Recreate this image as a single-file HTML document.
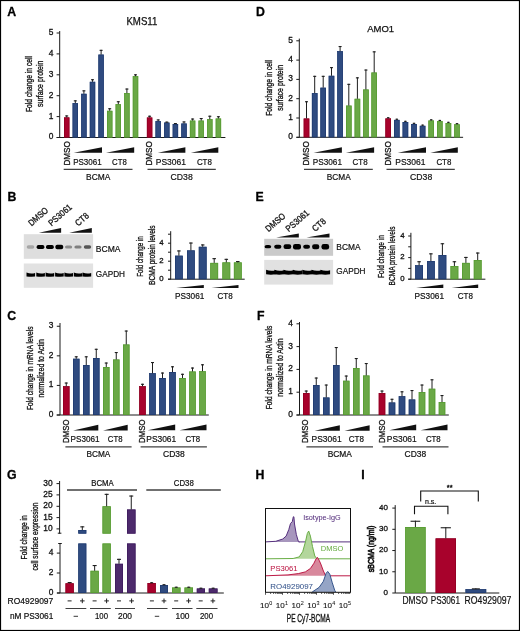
<!DOCTYPE html>
<html><head><meta charset="utf-8"><style>
html,body{margin:0;padding:0;background:#fff;}
body{width:520px;height:631px;overflow:hidden;}
svg{display:block;will-change:transform;font-family:"Liberation Sans", sans-serif;}
text{stroke-linejoin:round;}
</style></head><body>
<svg width="520" height="631" viewBox="0 0 520 631">
<defs><filter id="bl" x="-50%" y="-80%" width="200%" height="260%"><feGaussianBlur stdDeviation="0.55"/></filter><filter id="bl2" x="-50%" y="-80%" width="200%" height="260%"><feGaussianBlur stdDeviation="0.75"/></filter></defs>
<rect x="0" y="0" width="520" height="631" fill="#fff"/>
<text x="7.3" y="16.3" font-size="12.3" fill="#000" stroke="#000" stroke-width="0.3" font-weight="bold">A</text>
<text x="126.4" y="24.9" font-size="10.03" fill="#111" stroke="#111" stroke-width="0.25" font-weight="normal" textLength="31" lengthAdjust="spacingAndGlyphs">KMS11</text>
<line x1="59.7" y1="31" x2="59.7" y2="137.5" stroke="#1a1a1a" stroke-width="1"/>
<line x1="56.7" y1="137.5" x2="225.4" y2="137.5" stroke="#1a1a1a" stroke-width="1"/>
<line x1="56.6" y1="137.5" x2="59.7" y2="137.5" stroke="#1a1a1a" stroke-width="1"/>
<text x="53.3" y="139.49" font-size="8.4" fill="#111" stroke="#111" stroke-width="0.3" text-anchor="end">0</text>
<line x1="56.6" y1="116.6" x2="59.7" y2="116.6" stroke="#1a1a1a" stroke-width="1"/>
<text x="53.3" y="118.59" font-size="8.4" fill="#111" stroke="#111" stroke-width="0.3" text-anchor="end">1</text>
<line x1="56.6" y1="95.7" x2="59.7" y2="95.7" stroke="#1a1a1a" stroke-width="1"/>
<text x="53.3" y="97.69" font-size="8.4" fill="#111" stroke="#111" stroke-width="0.3" text-anchor="end">2</text>
<line x1="56.6" y1="74.8" x2="59.7" y2="74.8" stroke="#1a1a1a" stroke-width="1"/>
<text x="53.3" y="76.79" font-size="8.4" fill="#111" stroke="#111" stroke-width="0.3" text-anchor="end">3</text>
<line x1="56.6" y1="53.9" x2="59.7" y2="53.9" stroke="#1a1a1a" stroke-width="1"/>
<text x="53.3" y="55.89" font-size="8.4" fill="#111" stroke="#111" stroke-width="0.3" text-anchor="end">4</text>
<line x1="56.6" y1="33" x2="59.7" y2="33" stroke="#1a1a1a" stroke-width="1"/>
<text x="53.3" y="34.99" font-size="8.4" fill="#111" stroke="#111" stroke-width="0.3" text-anchor="end">5</text>
<rect x="64" y="117.4" width="5.4" height="20.1" fill="#a8022c"/>
<rect x="64.35" y="117.75" width="4.7" height="19.4" fill="none" stroke="#8c0022" stroke-width="0.7"/>
<line x1="66.7" y1="117.4" x2="66.7" y2="115.4" stroke="#1e1e1e" stroke-width="1"/>
<line x1="65.2" y1="115.95" x2="68.2" y2="115.95" stroke="#1e1e1e" stroke-width="1.1"/>
<rect x="72.6" y="103.1" width="5.4" height="34.4" fill="#2f4b80"/>
<rect x="72.95" y="103.45" width="4.7" height="33.7" fill="none" stroke="#1e3a6e" stroke-width="0.7"/>
<line x1="75.3" y1="103.1" x2="75.3" y2="100.3" stroke="#1e1e1e" stroke-width="1"/>
<line x1="73.8" y1="100.85" x2="76.8" y2="100.85" stroke="#1e1e1e" stroke-width="1.1"/>
<rect x="81.2" y="93.8" width="5.4" height="43.7" fill="#2f4b80"/>
<rect x="81.55" y="94.15" width="4.7" height="43" fill="none" stroke="#1e3a6e" stroke-width="0.7"/>
<line x1="83.9" y1="93.8" x2="83.9" y2="90.3" stroke="#1e1e1e" stroke-width="1"/>
<line x1="82.4" y1="90.85" x2="85.4" y2="90.85" stroke="#1e1e1e" stroke-width="1.1"/>
<rect x="89.8" y="81.8" width="5.4" height="55.7" fill="#2f4b80"/>
<rect x="90.15" y="82.15" width="4.7" height="55" fill="none" stroke="#1e3a6e" stroke-width="0.7"/>
<line x1="92.5" y1="81.8" x2="92.5" y2="79.2" stroke="#1e1e1e" stroke-width="1"/>
<line x1="91" y1="79.75" x2="94" y2="79.75" stroke="#1e1e1e" stroke-width="1.1"/>
<rect x="98.4" y="54.6" width="5.4" height="82.9" fill="#2f4b80"/>
<rect x="98.75" y="54.95" width="4.7" height="82.2" fill="none" stroke="#1e3a6e" stroke-width="0.7"/>
<line x1="101.1" y1="54.6" x2="101.1" y2="49.8" stroke="#1e1e1e" stroke-width="1"/>
<line x1="99.6" y1="50.35" x2="102.6" y2="50.35" stroke="#1e1e1e" stroke-width="1.1"/>
<rect x="107" y="110.8" width="5.4" height="26.7" fill="#6aa846"/>
<rect x="107.35" y="111.15" width="4.7" height="26" fill="none" stroke="#559a30" stroke-width="0.7"/>
<line x1="109.7" y1="110.8" x2="109.7" y2="108.2" stroke="#1e1e1e" stroke-width="1"/>
<line x1="108.2" y1="108.75" x2="111.2" y2="108.75" stroke="#1e1e1e" stroke-width="1.1"/>
<rect x="115.6" y="104.2" width="5.4" height="33.3" fill="#6aa846"/>
<rect x="115.95" y="104.55" width="4.7" height="32.6" fill="none" stroke="#559a30" stroke-width="0.7"/>
<line x1="118.3" y1="104.2" x2="118.3" y2="101.2" stroke="#1e1e1e" stroke-width="1"/>
<line x1="116.8" y1="101.75" x2="119.8" y2="101.75" stroke="#1e1e1e" stroke-width="1.1"/>
<rect x="124.2" y="93.1" width="5.4" height="44.4" fill="#6aa846"/>
<rect x="124.55" y="93.45" width="4.7" height="43.7" fill="none" stroke="#559a30" stroke-width="0.7"/>
<line x1="126.9" y1="93.1" x2="126.9" y2="88.5" stroke="#1e1e1e" stroke-width="1"/>
<line x1="125.4" y1="89.05" x2="128.4" y2="89.05" stroke="#1e1e1e" stroke-width="1.1"/>
<rect x="132.8" y="76.2" width="5.4" height="61.3" fill="#6aa846"/>
<rect x="133.15" y="76.55" width="4.7" height="60.6" fill="none" stroke="#559a30" stroke-width="0.7"/>
<line x1="135.5" y1="76.2" x2="135.5" y2="74.3" stroke="#1e1e1e" stroke-width="1"/>
<line x1="134" y1="74.85" x2="137" y2="74.85" stroke="#1e1e1e" stroke-width="1.1"/>
<rect x="146.9" y="117.5" width="5.4" height="20" fill="#a8022c"/>
<rect x="147.25" y="117.85" width="4.7" height="19.3" fill="none" stroke="#8c0022" stroke-width="0.7"/>
<line x1="149.6" y1="117.5" x2="149.6" y2="115.7" stroke="#1e1e1e" stroke-width="1"/>
<line x1="148.1" y1="116.25" x2="151.1" y2="116.25" stroke="#1e1e1e" stroke-width="1.1"/>
<rect x="155.5" y="121.1" width="5.4" height="16.4" fill="#2f4b80"/>
<rect x="155.85" y="121.45" width="4.7" height="15.7" fill="none" stroke="#1e3a6e" stroke-width="0.7"/>
<line x1="158.2" y1="121.1" x2="158.2" y2="119.4" stroke="#1e1e1e" stroke-width="1"/>
<line x1="156.7" y1="119.95" x2="159.7" y2="119.95" stroke="#1e1e1e" stroke-width="1.1"/>
<rect x="164.1" y="122.6" width="5.4" height="14.9" fill="#2f4b80"/>
<rect x="164.45" y="122.95" width="4.7" height="14.2" fill="none" stroke="#1e3a6e" stroke-width="0.7"/>
<line x1="166.8" y1="122.6" x2="166.8" y2="121.6" stroke="#1e1e1e" stroke-width="1"/>
<line x1="165.3" y1="122.15" x2="168.3" y2="122.15" stroke="#1e1e1e" stroke-width="1.1"/>
<rect x="172.7" y="124" width="5.4" height="13.5" fill="#2f4b80"/>
<rect x="173.05" y="124.35" width="4.7" height="12.8" fill="none" stroke="#1e3a6e" stroke-width="0.7"/>
<line x1="175.4" y1="124" x2="175.4" y2="123" stroke="#1e1e1e" stroke-width="1"/>
<line x1="173.9" y1="123.55" x2="176.9" y2="123.55" stroke="#1e1e1e" stroke-width="1.1"/>
<rect x="181.3" y="123.5" width="5.4" height="14" fill="#2f4b80"/>
<rect x="181.65" y="123.85" width="4.7" height="13.3" fill="none" stroke="#1e3a6e" stroke-width="0.7"/>
<line x1="184" y1="123.5" x2="184" y2="121.4" stroke="#1e1e1e" stroke-width="1"/>
<line x1="182.5" y1="121.95" x2="185.5" y2="121.95" stroke="#1e1e1e" stroke-width="1.1"/>
<rect x="189.9" y="120.6" width="5.4" height="16.9" fill="#6aa846"/>
<rect x="190.25" y="120.95" width="4.7" height="16.2" fill="none" stroke="#559a30" stroke-width="0.7"/>
<line x1="192.6" y1="120.6" x2="192.6" y2="118.5" stroke="#1e1e1e" stroke-width="1"/>
<line x1="191.1" y1="119.05" x2="194.1" y2="119.05" stroke="#1e1e1e" stroke-width="1.1"/>
<rect x="198.5" y="120.6" width="5.4" height="16.9" fill="#6aa846"/>
<rect x="198.85" y="120.95" width="4.7" height="16.2" fill="none" stroke="#559a30" stroke-width="0.7"/>
<line x1="201.2" y1="120.6" x2="201.2" y2="118" stroke="#1e1e1e" stroke-width="1"/>
<line x1="199.7" y1="118.55" x2="202.7" y2="118.55" stroke="#1e1e1e" stroke-width="1.1"/>
<rect x="207.1" y="119.2" width="5.4" height="18.3" fill="#6aa846"/>
<rect x="207.45" y="119.55" width="4.7" height="17.6" fill="none" stroke="#559a30" stroke-width="0.7"/>
<line x1="209.8" y1="119.2" x2="209.8" y2="115.7" stroke="#1e1e1e" stroke-width="1"/>
<line x1="208.3" y1="116.25" x2="211.3" y2="116.25" stroke="#1e1e1e" stroke-width="1.1"/>
<rect x="215.7" y="118.5" width="5.4" height="19" fill="#6aa846"/>
<rect x="216.05" y="118.85" width="4.7" height="18.3" fill="none" stroke="#559a30" stroke-width="0.7"/>
<line x1="218.4" y1="118.5" x2="218.4" y2="116.2" stroke="#1e1e1e" stroke-width="1"/>
<line x1="216.9" y1="116.75" x2="219.9" y2="116.75" stroke="#1e1e1e" stroke-width="1.1"/>
<text transform="translate(32 112.1) rotate(-90)" font-size="9" fill="#111" stroke="#111" stroke-width="0.32" font-weight="normal" textLength="56.2" lengthAdjust="spacingAndGlyphs">Fold change in cell</text>
<text transform="translate(42.8 107) rotate(-90)" font-size="9" fill="#111" stroke="#111" stroke-width="0.32" font-weight="normal" textLength="46.4" lengthAdjust="spacingAndGlyphs">surface protein</text>
<text transform="translate(69.6 165.6) rotate(-90)" font-size="8.7" fill="#111" stroke="#111" stroke-width="0.3" font-weight="normal" textLength="24.3" lengthAdjust="spacingAndGlyphs">DMSO</text>
<polygon points="73.7,152.8 102,147.3 102,152.8" fill="#111"/>
<polygon points="106,152.8 134.2,147.3 134.2,152.8" fill="#111"/>
<text x="73.2" y="164.6" font-size="8.72" fill="#111" stroke="#111" stroke-width="0.2" font-weight="normal" textLength="28.5" lengthAdjust="spacingAndGlyphs">PS3061</text>
<text x="112.1" y="164.6" font-size="8.72" fill="#111" stroke="#111" stroke-width="0.2" font-weight="normal" textLength="14.7" lengthAdjust="spacingAndGlyphs">CT8</text>
<line x1="63.7" y1="169.4" x2="132.5" y2="169.4" stroke="#404040" stroke-width="1.15"/>
<text x="86.1" y="179.9" font-size="8.72" fill="#111" stroke="#111" stroke-width="0.2" font-weight="normal" textLength="24.3" lengthAdjust="spacingAndGlyphs">BCMA</text>
<text transform="translate(152.2 165.6) rotate(-90)" font-size="8.7" fill="#111" stroke="#111" stroke-width="0.3" font-weight="normal" textLength="24.3" lengthAdjust="spacingAndGlyphs">DMSO</text>
<polygon points="157.7,152.8 185.4,147.3 185.4,152.8" fill="#111"/>
<polygon points="190.8,152.8 218.3,147.3 218.3,152.8" fill="#111"/>
<text x="155.8" y="164.6" font-size="8.72" fill="#111" stroke="#111" stroke-width="0.2" font-weight="normal" textLength="30.2" lengthAdjust="spacingAndGlyphs">PS3061</text>
<text x="196.9" y="164.6" font-size="8.72" fill="#111" stroke="#111" stroke-width="0.2" font-weight="normal" textLength="15" lengthAdjust="spacingAndGlyphs">CT8</text>
<line x1="147.5" y1="169.4" x2="215.8" y2="169.4" stroke="#404040" stroke-width="1.15"/>
<text x="170.6" y="179.9" font-size="8.72" fill="#111" stroke="#111" stroke-width="0.2" font-weight="normal" textLength="22.1" lengthAdjust="spacingAndGlyphs">CD38</text>
<text x="256.1" y="16.3" font-size="12.3" fill="#000" stroke="#000" stroke-width="0.3" font-weight="bold">D</text>
<text x="367.2" y="32" font-size="9.88" fill="#111" stroke="#111" stroke-width="0.25" font-weight="normal" textLength="26.9" lengthAdjust="spacingAndGlyphs">AMO1</text>
<line x1="299.3" y1="38.6" x2="299.3" y2="137.3" stroke="#1a1a1a" stroke-width="1"/>
<line x1="296.5" y1="137.3" x2="463.1" y2="137.3" stroke="#1a1a1a" stroke-width="1"/>
<line x1="296.3" y1="137.3" x2="299.3" y2="137.3" stroke="#1a1a1a" stroke-width="1"/>
<text x="292.8" y="139.29" font-size="8.4" fill="#111" stroke="#111" stroke-width="0.3" text-anchor="end">0</text>
<line x1="296.3" y1="118" x2="299.3" y2="118" stroke="#1a1a1a" stroke-width="1"/>
<text x="292.8" y="119.99" font-size="8.4" fill="#111" stroke="#111" stroke-width="0.3" text-anchor="end">1</text>
<line x1="296.3" y1="98.7" x2="299.3" y2="98.7" stroke="#1a1a1a" stroke-width="1"/>
<text x="292.8" y="100.69" font-size="8.4" fill="#111" stroke="#111" stroke-width="0.3" text-anchor="end">2</text>
<line x1="296.3" y1="79.4" x2="299.3" y2="79.4" stroke="#1a1a1a" stroke-width="1"/>
<text x="292.8" y="81.39" font-size="8.4" fill="#111" stroke="#111" stroke-width="0.3" text-anchor="end">3</text>
<line x1="296.3" y1="60.1" x2="299.3" y2="60.1" stroke="#1a1a1a" stroke-width="1"/>
<text x="292.8" y="62.09" font-size="8.4" fill="#111" stroke="#111" stroke-width="0.3" text-anchor="end">4</text>
<line x1="296.3" y1="40.8" x2="299.3" y2="40.8" stroke="#1a1a1a" stroke-width="1"/>
<text x="292.8" y="42.79" font-size="8.4" fill="#111" stroke="#111" stroke-width="0.3" text-anchor="end">5</text>
<rect x="303.7" y="118.5" width="5.6" height="18.8" fill="#a8022c"/>
<rect x="304.05" y="118.85" width="4.9" height="18.1" fill="none" stroke="#8c0022" stroke-width="0.7"/>
<line x1="306.5" y1="118.5" x2="306.5" y2="101.2" stroke="#1e1e1e" stroke-width="1"/>
<line x1="305" y1="101.75" x2="308" y2="101.75" stroke="#1e1e1e" stroke-width="1.1"/>
<rect x="311.9" y="93.1" width="5.6" height="44.2" fill="#2f4b80"/>
<rect x="312.25" y="93.45" width="4.9" height="43.5" fill="none" stroke="#1e3a6e" stroke-width="0.7"/>
<line x1="314.7" y1="93.1" x2="314.7" y2="75.8" stroke="#1e1e1e" stroke-width="1"/>
<line x1="313.2" y1="76.35" x2="316.2" y2="76.35" stroke="#1e1e1e" stroke-width="1.1"/>
<rect x="320.4" y="87.7" width="5.6" height="49.6" fill="#2f4b80"/>
<rect x="320.75" y="88.05" width="4.9" height="48.9" fill="none" stroke="#1e3a6e" stroke-width="0.7"/>
<line x1="323.2" y1="87.7" x2="323.2" y2="75.8" stroke="#1e1e1e" stroke-width="1"/>
<line x1="321.7" y1="76.35" x2="324.7" y2="76.35" stroke="#1e1e1e" stroke-width="1.1"/>
<rect x="328.7" y="75.8" width="5.6" height="61.5" fill="#2f4b80"/>
<rect x="329.05" y="76.15" width="4.9" height="60.8" fill="none" stroke="#1e3a6e" stroke-width="0.7"/>
<line x1="331.5" y1="75.8" x2="331.5" y2="67.1" stroke="#1e1e1e" stroke-width="1"/>
<line x1="330" y1="67.65" x2="333" y2="67.65" stroke="#1e1e1e" stroke-width="1.1"/>
<rect x="337.3" y="51.2" width="5.6" height="86.1" fill="#2f4b80"/>
<rect x="337.65" y="51.55" width="4.9" height="85.4" fill="none" stroke="#1e3a6e" stroke-width="0.7"/>
<line x1="340.1" y1="51.2" x2="340.1" y2="46" stroke="#1e1e1e" stroke-width="1"/>
<line x1="338.6" y1="46.55" x2="341.6" y2="46.55" stroke="#1e1e1e" stroke-width="1.1"/>
<rect x="346" y="105.6" width="5.6" height="31.7" fill="#6aa846"/>
<rect x="346.35" y="105.95" width="4.9" height="31" fill="none" stroke="#559a30" stroke-width="0.7"/>
<line x1="348.8" y1="105.6" x2="348.8" y2="83.8" stroke="#1e1e1e" stroke-width="1"/>
<line x1="347.3" y1="84.35" x2="350.3" y2="84.35" stroke="#1e1e1e" stroke-width="1.1"/>
<rect x="354.6" y="98.8" width="5.6" height="38.5" fill="#6aa846"/>
<rect x="354.95" y="99.15" width="4.9" height="37.8" fill="none" stroke="#559a30" stroke-width="0.7"/>
<line x1="357.4" y1="98.8" x2="357.4" y2="77.3" stroke="#1e1e1e" stroke-width="1"/>
<line x1="355.9" y1="77.85" x2="358.9" y2="77.85" stroke="#1e1e1e" stroke-width="1.1"/>
<rect x="363.1" y="89.5" width="5.6" height="47.8" fill="#6aa846"/>
<rect x="363.45" y="89.85" width="4.9" height="47.1" fill="none" stroke="#559a30" stroke-width="0.7"/>
<line x1="365.9" y1="89.5" x2="365.9" y2="69.5" stroke="#1e1e1e" stroke-width="1"/>
<line x1="364.4" y1="70.05" x2="367.4" y2="70.05" stroke="#1e1e1e" stroke-width="1.1"/>
<rect x="371.4" y="72.5" width="5.6" height="64.8" fill="#6aa846"/>
<rect x="371.75" y="72.85" width="4.9" height="64.1" fill="none" stroke="#559a30" stroke-width="0.7"/>
<line x1="374.2" y1="72.5" x2="374.2" y2="51.3" stroke="#1e1e1e" stroke-width="1"/>
<line x1="372.7" y1="51.85" x2="375.7" y2="51.85" stroke="#1e1e1e" stroke-width="1.1"/>
<rect x="385.4" y="118.4" width="5.6" height="18.9" fill="#a8022c"/>
<rect x="385.75" y="118.75" width="4.9" height="18.2" fill="none" stroke="#8c0022" stroke-width="0.7"/>
<line x1="388.2" y1="118.4" x2="388.2" y2="117.2" stroke="#1e1e1e" stroke-width="1"/>
<line x1="386.95" y1="117.75" x2="389.45" y2="117.75" stroke="#1e1e1e" stroke-width="1.1"/>
<rect x="394" y="119.9" width="5.6" height="17.4" fill="#2f4b80"/>
<rect x="394.35" y="120.25" width="4.9" height="16.7" fill="none" stroke="#1e3a6e" stroke-width="0.7"/>
<line x1="396.8" y1="119.9" x2="396.8" y2="118.7" stroke="#1e1e1e" stroke-width="1"/>
<line x1="395.55" y1="119.25" x2="398.05" y2="119.25" stroke="#1e1e1e" stroke-width="1.1"/>
<rect x="402.6" y="122" width="5.6" height="15.3" fill="#2f4b80"/>
<rect x="402.95" y="122.35" width="4.9" height="14.6" fill="none" stroke="#1e3a6e" stroke-width="0.7"/>
<line x1="405.4" y1="122" x2="405.4" y2="120.8" stroke="#1e1e1e" stroke-width="1"/>
<line x1="404.15" y1="121.35" x2="406.65" y2="121.35" stroke="#1e1e1e" stroke-width="1.1"/>
<rect x="411.2" y="124" width="5.6" height="13.3" fill="#2f4b80"/>
<rect x="411.55" y="124.35" width="4.9" height="12.6" fill="none" stroke="#1e3a6e" stroke-width="0.7"/>
<line x1="414" y1="124" x2="414" y2="122.8" stroke="#1e1e1e" stroke-width="1"/>
<line x1="412.75" y1="123.35" x2="415.25" y2="123.35" stroke="#1e1e1e" stroke-width="1.1"/>
<rect x="419.8" y="125.8" width="5.6" height="11.5" fill="#2f4b80"/>
<rect x="420.15" y="126.15" width="4.9" height="10.8" fill="none" stroke="#1e3a6e" stroke-width="0.7"/>
<line x1="422.6" y1="125.8" x2="422.6" y2="124.6" stroke="#1e1e1e" stroke-width="1"/>
<line x1="421.35" y1="125.15" x2="423.85" y2="125.15" stroke="#1e1e1e" stroke-width="1.1"/>
<rect x="428.4" y="120.5" width="5.6" height="16.8" fill="#6aa846"/>
<rect x="428.75" y="120.85" width="4.9" height="16.1" fill="none" stroke="#559a30" stroke-width="0.7"/>
<line x1="431.2" y1="120.5" x2="431.2" y2="119.3" stroke="#1e1e1e" stroke-width="1"/>
<line x1="429.95" y1="119.85" x2="432.45" y2="119.85" stroke="#1e1e1e" stroke-width="1.1"/>
<rect x="437" y="121.1" width="5.6" height="16.2" fill="#6aa846"/>
<rect x="437.35" y="121.45" width="4.9" height="15.5" fill="none" stroke="#559a30" stroke-width="0.7"/>
<line x1="439.8" y1="121.1" x2="439.8" y2="119.9" stroke="#1e1e1e" stroke-width="1"/>
<line x1="438.55" y1="120.45" x2="441.05" y2="120.45" stroke="#1e1e1e" stroke-width="1.1"/>
<rect x="445.6" y="123" width="5.6" height="14.3" fill="#6aa846"/>
<rect x="445.95" y="123.35" width="4.9" height="13.6" fill="none" stroke="#559a30" stroke-width="0.7"/>
<line x1="448.4" y1="123" x2="448.4" y2="121.8" stroke="#1e1e1e" stroke-width="1"/>
<line x1="447.15" y1="122.35" x2="449.65" y2="122.35" stroke="#1e1e1e" stroke-width="1.1"/>
<rect x="454.2" y="124.3" width="5.6" height="13" fill="#6aa846"/>
<rect x="454.55" y="124.65" width="4.9" height="12.3" fill="none" stroke="#559a30" stroke-width="0.7"/>
<line x1="457" y1="124.3" x2="457" y2="123.1" stroke="#1e1e1e" stroke-width="1"/>
<line x1="455.75" y1="123.65" x2="458.25" y2="123.65" stroke="#1e1e1e" stroke-width="1.1"/>
<text transform="translate(271.6 115.8) rotate(-90)" font-size="9.2" fill="#111" stroke="#111" stroke-width="0.32" font-weight="normal" textLength="55.8" lengthAdjust="spacingAndGlyphs">Fold change in cell</text>
<text transform="translate(282.8 110.8) rotate(-90)" font-size="9.2" fill="#111" stroke="#111" stroke-width="0.32" font-weight="normal" textLength="45.9" lengthAdjust="spacingAndGlyphs">surface protein</text>
<text transform="translate(308.9 165.6) rotate(-90)" font-size="8.7" fill="#111" stroke="#111" stroke-width="0.3" font-weight="normal" textLength="24.3" lengthAdjust="spacingAndGlyphs">DMSO</text>
<polygon points="313.6,152.8 341.9,147.3 341.9,152.8" fill="#111"/>
<polygon points="345.9,152.8 374.1,147.3 374.1,152.8" fill="#111"/>
<text x="312.8" y="164.6" font-size="8.72" fill="#111" stroke="#111" stroke-width="0.2" font-weight="normal" textLength="29.2" lengthAdjust="spacingAndGlyphs">PS3061</text>
<text x="352.6" y="164.6" font-size="8.72" fill="#111" stroke="#111" stroke-width="0.2" font-weight="normal" textLength="15.1" lengthAdjust="spacingAndGlyphs">CT8</text>
<line x1="304" y1="169.4" x2="372.8" y2="169.4" stroke="#404040" stroke-width="1.15"/>
<text x="326.7" y="179.9" font-size="8.72" fill="#111" stroke="#111" stroke-width="0.2" font-weight="normal" textLength="24" lengthAdjust="spacingAndGlyphs">BCMA</text>
<text transform="translate(391.2 165.6) rotate(-90)" font-size="8.7" fill="#111" stroke="#111" stroke-width="0.3" font-weight="normal" textLength="24.3" lengthAdjust="spacingAndGlyphs">DMSO</text>
<polygon points="397.7,152.8 426,147.3 426,152.8" fill="#111"/>
<polygon points="430.3,152.8 457.8,147.3 457.8,152.8" fill="#111"/>
<text x="395.3" y="164.6" font-size="8.72" fill="#111" stroke="#111" stroke-width="0.2" font-weight="normal" textLength="30.2" lengthAdjust="spacingAndGlyphs">PS3061</text>
<text x="436.4" y="164.6" font-size="8.72" fill="#111" stroke="#111" stroke-width="0.2" font-weight="normal" textLength="15" lengthAdjust="spacingAndGlyphs">CT8</text>
<line x1="386.5" y1="169.4" x2="454.8" y2="169.4" stroke="#404040" stroke-width="1.15"/>
<text x="410.1" y="179.9" font-size="8.72" fill="#111" stroke="#111" stroke-width="0.2" font-weight="normal" textLength="22.1" lengthAdjust="spacingAndGlyphs">CD38</text>
<text x="7.6" y="201" font-size="12.3" fill="#000" stroke="#000" stroke-width="0.3" font-weight="bold">B</text>
<rect x="23.8" y="234.2" width="69.3" height="24.6" fill="#dedede"/>
<rect x="26.7" y="245.3" width="7.6" height="3.4" rx="1.8" fill="#a6a6a6" filter="url(#bl2)"/>
<rect x="36.6" y="245" width="7.8" height="4" rx="1.8" fill="#050505" filter="url(#bl2)"/>
<rect x="46" y="245" width="7.8" height="4" rx="1.8" fill="#050505" filter="url(#bl2)"/>
<rect x="55.4" y="244.8" width="7.8" height="4.4" rx="1.8" fill="#000000" filter="url(#bl2)"/>
<rect x="65" y="245.4" width="7.2" height="3.2" rx="1.8" fill="#8c8c8c" filter="url(#bl2)"/>
<rect x="74.4" y="245.4" width="7.2" height="3.2" rx="1.8" fill="#7e7e7e" filter="url(#bl2)"/>
<rect x="83.8" y="245.35" width="7.4" height="3.3" rx="1.8" fill="#555555" filter="url(#bl2)"/>
<rect x="23.8" y="263.5" width="69.3" height="24.3" fill="#e2e2e2"/>
<path d="M26.5 272.6 Q30.7 274.2 35.1 273.0 L35.1 276.6 Q30.7 277.0 26.5 276.4 Z" fill="#050505" filter="url(#bl)"/>
<path d="M36.3 272.6 Q40.5 274.2 44.9 273.0 L44.9 276.6 Q40.5 277.0 36.3 276.4 Z" fill="#050505" filter="url(#bl)"/>
<path d="M45.6 272.6 Q49.8 274.2 54.2 273.0 L54.2 276.6 Q49.8 277.0 45.6 276.4 Z" fill="#050505" filter="url(#bl)"/>
<path d="M55.1 272.6 Q59.3 274.2 63.7 273.0 L63.7 276.6 Q59.3 277.0 55.1 276.4 Z" fill="#050505" filter="url(#bl)"/>
<path d="M64.4 272.6 Q68.6 274.2 73 273.0 L73 276.6 Q68.6 277.0 64.4 276.4 Z" fill="#050505" filter="url(#bl)"/>
<path d="M73.8 272.6 Q78 274.2 82.4 273.0 L82.4 276.6 Q78 277.0 73.8 276.4 Z" fill="#050505" filter="url(#bl)"/>
<path d="M82.6 272.6 Q86.8 274.2 91.2 273.0 L91.2 276.6 Q86.8 277.0 82.6 276.4 Z" fill="#050505" filter="url(#bl)"/>
<polygon points="38.8,232.7 61.1,228.1 61.1,232.7" fill="#111"/>
<polygon points="69.2,232.7 91.8,228.1 91.8,232.7" fill="#111"/>
<text transform="translate(31.4 226.4) rotate(-41)" font-size="8.9" fill="#111" stroke="#111" stroke-width="0.3" textLength="23.2" lengthAdjust="spacingAndGlyphs">DMSO</text>
<text transform="translate(51.4 226.4) rotate(-41)" font-size="8.9" fill="#111" stroke="#111" stroke-width="0.3" textLength="28" lengthAdjust="spacingAndGlyphs">PS3061</text>
<text transform="translate(78.3 226.4) rotate(-41)" font-size="8.9" fill="#111" stroke="#111" stroke-width="0.3" textLength="14.8" lengthAdjust="spacingAndGlyphs">CT8</text>
<text x="95.8" y="251.8" font-size="8.87" fill="#111" stroke="#111" stroke-width="0.2" font-weight="normal" textLength="24.7" lengthAdjust="spacingAndGlyphs">BCMA</text>
<text x="95.8" y="276.9" font-size="8.87" fill="#111" stroke="#111" stroke-width="0.2" font-weight="normal" textLength="29.2" lengthAdjust="spacingAndGlyphs">GAPDH</text>
<line x1="170.7" y1="231.2" x2="170.7" y2="279.2" stroke="#1a1a1a" stroke-width="1"/>
<line x1="168" y1="279.2" x2="244.7" y2="279.2" stroke="#1a1a1a" stroke-width="1"/>
<line x1="168" y1="279.2" x2="170.7" y2="279.2" stroke="#1a1a1a" stroke-width="1"/>
<text x="163.6" y="280.98" font-size="7.8" fill="#111" stroke="#111" stroke-width="0.3" text-anchor="end">0</text>
<line x1="168" y1="270.2" x2="170.7" y2="270.2" stroke="#1a1a1a" stroke-width="1"/>
<line x1="168" y1="261.2" x2="170.7" y2="261.2" stroke="#1a1a1a" stroke-width="1"/>
<text x="163.6" y="262.98" font-size="7.8" fill="#111" stroke="#111" stroke-width="0.3" text-anchor="end">2</text>
<line x1="168" y1="252.2" x2="170.7" y2="252.2" stroke="#1a1a1a" stroke-width="1"/>
<line x1="168" y1="243.2" x2="170.7" y2="243.2" stroke="#1a1a1a" stroke-width="1"/>
<text x="163.6" y="244.98" font-size="7.8" fill="#111" stroke="#111" stroke-width="0.3" text-anchor="end">4</text>
<line x1="168" y1="234.2" x2="170.7" y2="234.2" stroke="#1a1a1a" stroke-width="1"/>
<rect x="175" y="255.7" width="7.8" height="23.5" fill="#2f4b80"/>
<rect x="175.35" y="256.05" width="7.1" height="22.8" fill="none" stroke="#1e3a6e" stroke-width="0.7"/>
<line x1="178.9" y1="255.7" x2="178.9" y2="250.4" stroke="#1e1e1e" stroke-width="1"/>
<line x1="177.15" y1="250.95" x2="180.65" y2="250.95" stroke="#1e1e1e" stroke-width="1.1"/>
<rect x="187" y="250.4" width="7.8" height="28.8" fill="#2f4b80"/>
<rect x="187.35" y="250.75" width="7.1" height="28.1" fill="none" stroke="#1e3a6e" stroke-width="0.7"/>
<line x1="190.9" y1="250.4" x2="190.9" y2="242.5" stroke="#1e1e1e" stroke-width="1"/>
<line x1="189.15" y1="243.05" x2="192.65" y2="243.05" stroke="#1e1e1e" stroke-width="1.1"/>
<rect x="198.8" y="246.8" width="7.8" height="32.4" fill="#2f4b80"/>
<rect x="199.15" y="247.15" width="7.1" height="31.7" fill="none" stroke="#1e3a6e" stroke-width="0.7"/>
<line x1="202.7" y1="246.8" x2="202.7" y2="244.4" stroke="#1e1e1e" stroke-width="1"/>
<line x1="200.95" y1="244.95" x2="204.45" y2="244.95" stroke="#1e1e1e" stroke-width="1.1"/>
<rect x="210.3" y="262.9" width="7.8" height="16.3" fill="#6aa846"/>
<rect x="210.65" y="263.25" width="7.1" height="15.6" fill="none" stroke="#559a30" stroke-width="0.7"/>
<line x1="214.2" y1="262.9" x2="214.2" y2="258.1" stroke="#1e1e1e" stroke-width="1"/>
<line x1="212.45" y1="258.65" x2="215.95" y2="258.65" stroke="#1e1e1e" stroke-width="1.1"/>
<rect x="222.4" y="262.4" width="7.8" height="16.8" fill="#6aa846"/>
<rect x="222.75" y="262.75" width="7.1" height="16.1" fill="none" stroke="#559a30" stroke-width="0.7"/>
<line x1="226.3" y1="262.4" x2="226.3" y2="258.8" stroke="#1e1e1e" stroke-width="1"/>
<line x1="224.55" y1="259.35" x2="228.05" y2="259.35" stroke="#1e1e1e" stroke-width="1.1"/>
<rect x="233.9" y="262.4" width="7.8" height="16.8" fill="#6aa846"/>
<rect x="234.25" y="262.75" width="7.1" height="16.1" fill="none" stroke="#559a30" stroke-width="0.7"/>
<line x1="237.8" y1="262.4" x2="237.8" y2="261" stroke="#1e1e1e" stroke-width="1"/>
<line x1="236.05" y1="261.55" x2="239.55" y2="261.55" stroke="#1e1e1e" stroke-width="1.1"/>
<text transform="translate(143.2 276.8) rotate(-90)" font-size="9.4" fill="#111" stroke="#111" stroke-width="0.32" font-weight="normal" textLength="40.6" lengthAdjust="spacingAndGlyphs">Fold change in</text>
<text transform="translate(154.6 284.9) rotate(-90)" font-size="9.4" fill="#111" stroke="#111" stroke-width="0.32" font-weight="normal" textLength="59.5" lengthAdjust="spacingAndGlyphs">BCMA protein levels</text>
<polygon points="176.2,288.1 203.8,285 203.8,288.1" fill="#111"/>
<polygon points="211.5,288.1 238.5,285 238.5,288.1" fill="#111"/>
<text x="175" y="299" font-size="8.72" fill="#111" stroke="#111" stroke-width="0.2" font-weight="normal" textLength="29.3" lengthAdjust="spacingAndGlyphs">PS3061</text>
<text x="217.5" y="299" font-size="8.72" fill="#111" stroke="#111" stroke-width="0.2" font-weight="normal" textLength="15.2" lengthAdjust="spacingAndGlyphs">CT8</text>
<text x="255.5" y="201" font-size="12.3" fill="#000" stroke="#000" stroke-width="0.3" font-weight="bold">E</text>
<rect x="264.2" y="238.8" width="68.9" height="17" fill="#cacaca"/>
<rect x="264.6" y="245.1" width="6.6" height="3.2" rx="2.2" fill="#050505" filter="url(#bl2)"/>
<rect x="274.2" y="244.65" width="7.2" height="4.1" rx="2.2" fill="#050505" filter="url(#bl2)"/>
<rect x="283.5" y="244.35" width="7.8" height="4.7" rx="2.2" fill="#050505" filter="url(#bl2)"/>
<rect x="293" y="243.9" width="8" height="5.6" rx="2.2" fill="#050505" filter="url(#bl2)"/>
<rect x="303.2" y="244.75" width="6.8" height="3.9" rx="2.2" fill="#050505" filter="url(#bl2)"/>
<rect x="312.1" y="244.2" width="7.2" height="5" rx="2.2" fill="#050505" filter="url(#bl2)"/>
<rect x="321.5" y="244" width="7.6" height="5.4" rx="2.2" fill="#050505" filter="url(#bl2)"/>
<rect x="264.2" y="259.9" width="68.9" height="24.7" fill="#e1e1e1"/>
<path d="M266.1 269.8 Q270.9 271.6 275.7 270.2 L275.7 274.3 Q270.9 275.0 266.1 274.3 Z" fill="#050505" filter="url(#bl)"/>
<path d="M274.4 269.8 Q279.2 271.6 284 270.2 L284 274.3 Q279.2 275.0 274.4 274.3 Z" fill="#050505" filter="url(#bl)"/>
<path d="M283.6 269.8 Q288.4 271.6 293.2 270.2 L293.2 274.3 Q288.4 275.0 283.6 274.3 Z" fill="#050505" filter="url(#bl)"/>
<path d="M292.9 269.8 Q297.7 271.6 302.5 270.2 L302.5 274.3 Q297.7 275.0 292.9 274.3 Z" fill="#050505" filter="url(#bl)"/>
<path d="M302.4 269.8 Q307.2 271.6 312 270.2 L312 274.3 Q307.2 275.0 302.4 274.3 Z" fill="#050505" filter="url(#bl)"/>
<path d="M311.6 269.8 Q316.4 271.6 321.2 270.2 L321.2 274.3 Q316.4 275.0 311.6 274.3 Z" fill="#050505" filter="url(#bl)"/>
<path d="M320.5 269.8 Q325.3 271.6 330.1 270.2 L330.1 274.3 Q325.3 275.0 320.5 274.3 Z" fill="#050505" filter="url(#bl)"/>
<polygon points="276.2,237.5 298.8,233.4 298.8,237.5" fill="#111"/>
<polygon points="306.5,237.5 329.5,233.4 329.5,237.5" fill="#111"/>
<text transform="translate(268.6 232.2) rotate(-41)" font-size="8.9" fill="#111" stroke="#111" stroke-width="0.3" textLength="23.2" lengthAdjust="spacingAndGlyphs">DMSO</text>
<text transform="translate(288.8 232.2) rotate(-41)" font-size="8.9" fill="#111" stroke="#111" stroke-width="0.3" textLength="28" lengthAdjust="spacingAndGlyphs">PS3061</text>
<text transform="translate(315.3 231.9) rotate(-41)" font-size="8.9" fill="#111" stroke="#111" stroke-width="0.3" textLength="14.8" lengthAdjust="spacingAndGlyphs">CT8</text>
<text x="336.3" y="249.9" font-size="8.87" fill="#111" stroke="#111" stroke-width="0.2" font-weight="normal" textLength="24.2" lengthAdjust="spacingAndGlyphs">BCMA</text>
<text x="336.3" y="274.4" font-size="8.87" fill="#111" stroke="#111" stroke-width="0.2" font-weight="normal" textLength="29.2" lengthAdjust="spacingAndGlyphs">GAPDH</text>
<line x1="410.9" y1="232.8" x2="410.9" y2="279.2" stroke="#1a1a1a" stroke-width="1"/>
<line x1="408.2" y1="279.2" x2="485.4" y2="279.2" stroke="#1a1a1a" stroke-width="1"/>
<line x1="408.2" y1="279.2" x2="410.9" y2="279.2" stroke="#1a1a1a" stroke-width="1"/>
<text x="404.7" y="280.98" font-size="7.8" fill="#111" stroke="#111" stroke-width="0.3" text-anchor="end">0</text>
<line x1="408.2" y1="268.4" x2="410.9" y2="268.4" stroke="#1a1a1a" stroke-width="1"/>
<line x1="408.2" y1="257.6" x2="410.9" y2="257.6" stroke="#1a1a1a" stroke-width="1"/>
<text x="404.7" y="259.38" font-size="7.8" fill="#111" stroke="#111" stroke-width="0.3" text-anchor="end">2</text>
<line x1="408.2" y1="246.8" x2="410.9" y2="246.8" stroke="#1a1a1a" stroke-width="1"/>
<line x1="408.2" y1="236" x2="410.9" y2="236" stroke="#1a1a1a" stroke-width="1"/>
<text x="404.7" y="237.78" font-size="7.8" fill="#111" stroke="#111" stroke-width="0.3" text-anchor="end">4</text>
<rect x="415.2" y="265.3" width="7.8" height="13.9" fill="#2f4b80"/>
<rect x="415.55" y="265.65" width="7.1" height="13.2" fill="none" stroke="#1e3a6e" stroke-width="0.7"/>
<line x1="419.1" y1="265.3" x2="419.1" y2="261.2" stroke="#1e1e1e" stroke-width="1"/>
<line x1="417.35" y1="261.75" x2="420.85" y2="261.75" stroke="#1e1e1e" stroke-width="1.1"/>
<rect x="427" y="261" width="7.8" height="18.2" fill="#2f4b80"/>
<rect x="427.35" y="261.35" width="7.1" height="17.5" fill="none" stroke="#1e3a6e" stroke-width="0.7"/>
<line x1="430.9" y1="261" x2="430.9" y2="253.3" stroke="#1e1e1e" stroke-width="1"/>
<line x1="429.15" y1="253.85" x2="432.65" y2="253.85" stroke="#1e1e1e" stroke-width="1.1"/>
<rect x="438.5" y="255" width="7.8" height="24.2" fill="#2f4b80"/>
<rect x="438.85" y="255.35" width="7.1" height="23.5" fill="none" stroke="#1e3a6e" stroke-width="0.7"/>
<line x1="442.4" y1="255" x2="442.4" y2="243.2" stroke="#1e1e1e" stroke-width="1"/>
<line x1="440.65" y1="243.75" x2="444.15" y2="243.75" stroke="#1e1e1e" stroke-width="1.1"/>
<rect x="450.5" y="266" width="7.8" height="13.2" fill="#6aa846"/>
<rect x="450.85" y="266.35" width="7.1" height="12.5" fill="none" stroke="#559a30" stroke-width="0.7"/>
<line x1="454.4" y1="266" x2="454.4" y2="261.2" stroke="#1e1e1e" stroke-width="1"/>
<line x1="452.65" y1="261.75" x2="456.15" y2="261.75" stroke="#1e1e1e" stroke-width="1.1"/>
<rect x="462" y="262.9" width="7.8" height="16.3" fill="#6aa846"/>
<rect x="462.35" y="263.25" width="7.1" height="15.6" fill="none" stroke="#559a30" stroke-width="0.7"/>
<line x1="465.9" y1="262.9" x2="465.9" y2="256.9" stroke="#1e1e1e" stroke-width="1"/>
<line x1="464.15" y1="257.45" x2="467.65" y2="257.45" stroke="#1e1e1e" stroke-width="1.1"/>
<rect x="473.8" y="260" width="7.8" height="19.2" fill="#6aa846"/>
<rect x="474.15" y="260.35" width="7.1" height="18.5" fill="none" stroke="#559a30" stroke-width="0.7"/>
<line x1="477.7" y1="260" x2="477.7" y2="252.5" stroke="#1e1e1e" stroke-width="1"/>
<line x1="475.95" y1="253.05" x2="479.45" y2="253.05" stroke="#1e1e1e" stroke-width="1.1"/>
<text transform="translate(383.6 277.9) rotate(-90)" font-size="9.4" fill="#111" stroke="#111" stroke-width="0.32" font-weight="normal" textLength="42.7" lengthAdjust="spacingAndGlyphs">Fold change in</text>
<text transform="translate(394.6 285.4) rotate(-90)" font-size="9.4" fill="#111" stroke="#111" stroke-width="0.32" font-weight="normal" textLength="58.9" lengthAdjust="spacingAndGlyphs">BCMA protein levels</text>
<polygon points="416.2,288.1 443.3,284.5 443.3,288.1" fill="#111"/>
<polygon points="451.7,288.1 478.2,284.5 478.2,288.1" fill="#111"/>
<text x="414.5" y="299" font-size="8.72" fill="#111" stroke="#111" stroke-width="0.2" font-weight="normal" textLength="29.5" lengthAdjust="spacingAndGlyphs">PS3061</text>
<text x="457.7" y="299" font-size="8.72" fill="#111" stroke="#111" stroke-width="0.2" font-weight="normal" textLength="15.2" lengthAdjust="spacingAndGlyphs">CT8</text>
<text x="7.2" y="320.2" font-size="12.3" fill="#000" stroke="#000" stroke-width="0.3" font-weight="bold">C</text>
<line x1="60" y1="323" x2="60" y2="415" stroke="#1a1a1a" stroke-width="1"/>
<line x1="56.7" y1="415" x2="208.8" y2="415" stroke="#1a1a1a" stroke-width="1"/>
<line x1="56.8" y1="415" x2="60" y2="415" stroke="#1a1a1a" stroke-width="1"/>
<text x="53.3" y="416.99" font-size="8.4" fill="#111" stroke="#111" stroke-width="0.3" text-anchor="end">0</text>
<line x1="56.8" y1="385.42" x2="60" y2="385.42" stroke="#1a1a1a" stroke-width="1"/>
<text x="53.3" y="387.41" font-size="8.4" fill="#111" stroke="#111" stroke-width="0.3" text-anchor="end">1</text>
<line x1="56.8" y1="355.84" x2="60" y2="355.84" stroke="#1a1a1a" stroke-width="1"/>
<text x="53.3" y="357.83" font-size="8.4" fill="#111" stroke="#111" stroke-width="0.3" text-anchor="end">2</text>
<line x1="56.8" y1="326.26" x2="60" y2="326.26" stroke="#1a1a1a" stroke-width="1"/>
<text x="53.3" y="328.25" font-size="8.4" fill="#111" stroke="#111" stroke-width="0.3" text-anchor="end">3</text>
<rect x="63" y="386.25" width="6.5" height="28.75" fill="#a8022c"/>
<rect x="63.35" y="386.6" width="5.8" height="28.05" fill="none" stroke="#8c0022" stroke-width="0.7"/>
<line x1="66.25" y1="386.25" x2="66.25" y2="382.5" stroke="#1e1e1e" stroke-width="1"/>
<line x1="64.75" y1="383.05" x2="67.75" y2="383.05" stroke="#1e1e1e" stroke-width="1.1"/>
<rect x="73" y="358.75" width="6.5" height="56.25" fill="#2f4b80"/>
<rect x="73.35" y="359.1" width="5.8" height="55.55" fill="none" stroke="#1e3a6e" stroke-width="0.7"/>
<line x1="76.25" y1="358.75" x2="76.25" y2="356.25" stroke="#1e1e1e" stroke-width="1"/>
<line x1="74.75" y1="356.8" x2="77.75" y2="356.8" stroke="#1e1e1e" stroke-width="1.1"/>
<rect x="83" y="365" width="6.5" height="50" fill="#2f4b80"/>
<rect x="83.35" y="365.35" width="5.8" height="49.3" fill="none" stroke="#1e3a6e" stroke-width="0.7"/>
<line x1="86.25" y1="365" x2="86.25" y2="356.25" stroke="#1e1e1e" stroke-width="1"/>
<line x1="84.75" y1="356.8" x2="87.75" y2="356.8" stroke="#1e1e1e" stroke-width="1.1"/>
<rect x="93" y="358" width="6.5" height="57" fill="#2f4b80"/>
<rect x="93.35" y="358.35" width="5.8" height="56.3" fill="none" stroke="#1e3a6e" stroke-width="0.7"/>
<line x1="96.25" y1="358" x2="96.25" y2="348.75" stroke="#1e1e1e" stroke-width="1"/>
<line x1="94.75" y1="349.3" x2="97.75" y2="349.3" stroke="#1e1e1e" stroke-width="1.1"/>
<rect x="103" y="367" width="6.5" height="48" fill="#6aa846"/>
<rect x="103.35" y="367.35" width="5.8" height="47.3" fill="none" stroke="#559a30" stroke-width="0.7"/>
<line x1="106.25" y1="367" x2="106.25" y2="362.5" stroke="#1e1e1e" stroke-width="1"/>
<line x1="104.75" y1="363.05" x2="107.75" y2="363.05" stroke="#1e1e1e" stroke-width="1.1"/>
<rect x="113" y="359.5" width="6.5" height="55.5" fill="#6aa846"/>
<rect x="113.35" y="359.85" width="5.8" height="54.8" fill="none" stroke="#559a30" stroke-width="0.7"/>
<line x1="116.25" y1="359.5" x2="116.25" y2="352" stroke="#1e1e1e" stroke-width="1"/>
<line x1="114.75" y1="352.55" x2="117.75" y2="352.55" stroke="#1e1e1e" stroke-width="1.1"/>
<rect x="123" y="344.5" width="6.5" height="70.5" fill="#6aa846"/>
<rect x="123.35" y="344.85" width="5.8" height="69.8" fill="none" stroke="#559a30" stroke-width="0.7"/>
<line x1="126.25" y1="344.5" x2="126.25" y2="330.5" stroke="#1e1e1e" stroke-width="1"/>
<line x1="124.75" y1="331.05" x2="127.75" y2="331.05" stroke="#1e1e1e" stroke-width="1.1"/>
<rect x="139.25" y="386.25" width="6.5" height="28.75" fill="#a8022c"/>
<rect x="139.6" y="386.6" width="5.8" height="28.05" fill="none" stroke="#8c0022" stroke-width="0.7"/>
<line x1="142.5" y1="386.25" x2="142.5" y2="383.75" stroke="#1e1e1e" stroke-width="1"/>
<line x1="141" y1="384.3" x2="144" y2="384.3" stroke="#1e1e1e" stroke-width="1.1"/>
<rect x="149.25" y="373.25" width="6.5" height="41.75" fill="#2f4b80"/>
<rect x="149.6" y="373.6" width="5.8" height="41.05" fill="none" stroke="#1e3a6e" stroke-width="0.7"/>
<line x1="152.5" y1="373.25" x2="152.5" y2="362" stroke="#1e1e1e" stroke-width="1"/>
<line x1="151" y1="362.55" x2="154" y2="362.55" stroke="#1e1e1e" stroke-width="1.1"/>
<rect x="159.25" y="378" width="6.5" height="37" fill="#2f4b80"/>
<rect x="159.6" y="378.35" width="5.8" height="36.3" fill="none" stroke="#1e3a6e" stroke-width="0.7"/>
<line x1="162.5" y1="378" x2="162.5" y2="372.5" stroke="#1e1e1e" stroke-width="1"/>
<line x1="161" y1="373.05" x2="164" y2="373.05" stroke="#1e1e1e" stroke-width="1.1"/>
<rect x="169.25" y="372" width="6.5" height="43" fill="#2f4b80"/>
<rect x="169.6" y="372.35" width="5.8" height="42.3" fill="none" stroke="#1e3a6e" stroke-width="0.7"/>
<line x1="172.5" y1="372" x2="172.5" y2="366.25" stroke="#1e1e1e" stroke-width="1"/>
<line x1="171" y1="366.8" x2="174" y2="366.8" stroke="#1e1e1e" stroke-width="1.1"/>
<rect x="179.25" y="378" width="6.5" height="37" fill="#6aa846"/>
<rect x="179.6" y="378.35" width="5.8" height="36.3" fill="none" stroke="#559a30" stroke-width="0.7"/>
<line x1="182.5" y1="378" x2="182.5" y2="373.75" stroke="#1e1e1e" stroke-width="1"/>
<line x1="181" y1="374.3" x2="184" y2="374.3" stroke="#1e1e1e" stroke-width="1.1"/>
<rect x="189.25" y="371.5" width="6.5" height="43.5" fill="#6aa846"/>
<rect x="189.6" y="371.85" width="5.8" height="42.8" fill="none" stroke="#559a30" stroke-width="0.7"/>
<line x1="192.5" y1="371.5" x2="192.5" y2="367.5" stroke="#1e1e1e" stroke-width="1"/>
<line x1="191" y1="368.05" x2="194" y2="368.05" stroke="#1e1e1e" stroke-width="1.1"/>
<rect x="199.25" y="371.25" width="6.5" height="43.75" fill="#6aa846"/>
<rect x="199.6" y="371.6" width="5.8" height="43.05" fill="none" stroke="#559a30" stroke-width="0.7"/>
<line x1="202.5" y1="371.25" x2="202.5" y2="364.25" stroke="#1e1e1e" stroke-width="1"/>
<line x1="201" y1="364.8" x2="204" y2="364.8" stroke="#1e1e1e" stroke-width="1.1"/>
<text transform="translate(32.6 410.1) rotate(-90)" font-size="9.4" fill="#111" stroke="#111" stroke-width="0.32" font-weight="normal" textLength="83.6" lengthAdjust="spacingAndGlyphs">Fold change in mRNA levels</text>
<text transform="translate(43.7 397.5) rotate(-90)" font-size="9.4" fill="#111" stroke="#111" stroke-width="0.32" font-weight="normal" textLength="58.3" lengthAdjust="spacingAndGlyphs">normalized to Actin</text>
<text transform="translate(68.7 442.9) rotate(-90)" font-size="8.7" fill="#111" stroke="#111" stroke-width="0.3" font-weight="normal" textLength="23.4" lengthAdjust="spacingAndGlyphs">DMSO</text>
<polygon points="73.2,430.4 98.3,424.7 98.3,430.4" fill="#111"/>
<polygon points="103.1,430.4 127.7,424.7 127.7,430.4" fill="#111"/>
<text x="70.6" y="442" font-size="8.43" fill="#111" stroke="#111" stroke-width="0.2" font-weight="normal" textLength="29" lengthAdjust="spacingAndGlyphs">PS3061</text>
<text x="107.8" y="442" font-size="8.43" fill="#111" stroke="#111" stroke-width="0.2" font-weight="normal" textLength="14.7" lengthAdjust="spacingAndGlyphs">CT8</text>
<line x1="65.4" y1="446.9" x2="131.6" y2="446.9" stroke="#404040" stroke-width="1.15"/>
<text x="86.5" y="457" font-size="8.43" fill="#111" stroke="#111" stroke-width="0.2" font-weight="normal" textLength="23.9" lengthAdjust="spacingAndGlyphs">BCMA</text>
<text transform="translate(145.3 442.9) rotate(-90)" font-size="8.7" fill="#111" stroke="#111" stroke-width="0.3" font-weight="normal" textLength="23.4" lengthAdjust="spacingAndGlyphs">DMSO</text>
<polygon points="147.7,430.2 175.2,424.4 175.2,430.2" fill="#111"/>
<polygon points="179.6,430.2 206.5,424.4 206.5,430.2" fill="#111"/>
<text x="146.3" y="442" font-size="8.43" fill="#111" stroke="#111" stroke-width="0.2" font-weight="normal" textLength="29.9" lengthAdjust="spacingAndGlyphs">PS3061</text>
<text x="185.4" y="442" font-size="8.43" fill="#111" stroke="#111" stroke-width="0.2" font-weight="normal" textLength="14.8" lengthAdjust="spacingAndGlyphs">CT8</text>
<line x1="140.6" y1="446.9" x2="206.9" y2="446.9" stroke="#404040" stroke-width="1.15"/>
<text x="163" y="457" font-size="8.43" fill="#111" stroke="#111" stroke-width="0.2" font-weight="normal" textLength="21.8" lengthAdjust="spacingAndGlyphs">CD38</text>
<text x="257" y="320.2" font-size="12.3" fill="#000" stroke="#000" stroke-width="0.3" font-weight="bold">F</text>
<line x1="299.5" y1="322" x2="299.5" y2="415" stroke="#1a1a1a" stroke-width="1"/>
<line x1="296.5" y1="415" x2="448.8" y2="415" stroke="#1a1a1a" stroke-width="1"/>
<line x1="296.5" y1="415" x2="299.5" y2="415" stroke="#1a1a1a" stroke-width="1"/>
<text x="293" y="416.99" font-size="8.4" fill="#111" stroke="#111" stroke-width="0.3" text-anchor="end">0</text>
<line x1="296.5" y1="392.2" x2="299.5" y2="392.2" stroke="#1a1a1a" stroke-width="1"/>
<text x="293" y="394.19" font-size="8.4" fill="#111" stroke="#111" stroke-width="0.3" text-anchor="end">1</text>
<line x1="296.5" y1="369.4" x2="299.5" y2="369.4" stroke="#1a1a1a" stroke-width="1"/>
<text x="293" y="371.39" font-size="8.4" fill="#111" stroke="#111" stroke-width="0.3" text-anchor="end">2</text>
<line x1="296.5" y1="346.6" x2="299.5" y2="346.6" stroke="#1a1a1a" stroke-width="1"/>
<text x="293" y="348.59" font-size="8.4" fill="#111" stroke="#111" stroke-width="0.3" text-anchor="end">3</text>
<line x1="296.5" y1="323.8" x2="299.5" y2="323.8" stroke="#1a1a1a" stroke-width="1"/>
<text x="293" y="325.79" font-size="8.4" fill="#111" stroke="#111" stroke-width="0.3" text-anchor="end">4</text>
<rect x="303" y="393" width="6.5" height="22" fill="#a8022c"/>
<rect x="303.35" y="393.35" width="5.8" height="21.3" fill="none" stroke="#8c0022" stroke-width="0.7"/>
<line x1="306.25" y1="393" x2="306.25" y2="390.5" stroke="#1e1e1e" stroke-width="1"/>
<line x1="304.75" y1="391.05" x2="307.75" y2="391.05" stroke="#1e1e1e" stroke-width="1.1"/>
<rect x="313" y="385" width="6.5" height="30" fill="#2f4b80"/>
<rect x="313.35" y="385.35" width="5.8" height="29.3" fill="none" stroke="#1e3a6e" stroke-width="0.7"/>
<line x1="316.25" y1="385" x2="316.25" y2="377.5" stroke="#1e1e1e" stroke-width="1"/>
<line x1="314.75" y1="378.05" x2="317.75" y2="378.05" stroke="#1e1e1e" stroke-width="1.1"/>
<rect x="323" y="397.5" width="6.5" height="17.5" fill="#2f4b80"/>
<rect x="323.35" y="397.85" width="5.8" height="16.8" fill="none" stroke="#1e3a6e" stroke-width="0.7"/>
<line x1="326.25" y1="397.5" x2="326.25" y2="384.5" stroke="#1e1e1e" stroke-width="1"/>
<line x1="324.75" y1="385.05" x2="327.75" y2="385.05" stroke="#1e1e1e" stroke-width="1.1"/>
<rect x="333" y="365" width="6.5" height="50" fill="#2f4b80"/>
<rect x="333.35" y="365.35" width="5.8" height="49.3" fill="none" stroke="#1e3a6e" stroke-width="0.7"/>
<line x1="336.25" y1="365" x2="336.25" y2="347" stroke="#1e1e1e" stroke-width="1"/>
<line x1="334.75" y1="347.55" x2="337.75" y2="347.55" stroke="#1e1e1e" stroke-width="1.1"/>
<rect x="343" y="380.75" width="6.5" height="34.25" fill="#6aa846"/>
<rect x="343.35" y="381.1" width="5.8" height="33.55" fill="none" stroke="#559a30" stroke-width="0.7"/>
<line x1="346.25" y1="380.75" x2="346.25" y2="375.5" stroke="#1e1e1e" stroke-width="1"/>
<line x1="344.75" y1="376.05" x2="347.75" y2="376.05" stroke="#1e1e1e" stroke-width="1.1"/>
<rect x="353" y="368" width="6.5" height="47" fill="#6aa846"/>
<rect x="353.35" y="368.35" width="5.8" height="46.3" fill="none" stroke="#559a30" stroke-width="0.7"/>
<line x1="356.25" y1="368" x2="356.25" y2="358" stroke="#1e1e1e" stroke-width="1"/>
<line x1="354.75" y1="358.55" x2="357.75" y2="358.55" stroke="#1e1e1e" stroke-width="1.1"/>
<rect x="363" y="375.5" width="6.5" height="39.5" fill="#6aa846"/>
<rect x="363.35" y="375.85" width="5.8" height="38.8" fill="none" stroke="#559a30" stroke-width="0.7"/>
<line x1="366.25" y1="375.5" x2="366.25" y2="363" stroke="#1e1e1e" stroke-width="1"/>
<line x1="364.75" y1="363.55" x2="367.75" y2="363.55" stroke="#1e1e1e" stroke-width="1.1"/>
<rect x="378.75" y="393" width="6.5" height="22" fill="#a8022c"/>
<rect x="379.1" y="393.35" width="5.8" height="21.3" fill="none" stroke="#8c0022" stroke-width="0.7"/>
<line x1="382" y1="393" x2="382" y2="390.5" stroke="#1e1e1e" stroke-width="1"/>
<line x1="380.5" y1="391.05" x2="383.5" y2="391.05" stroke="#1e1e1e" stroke-width="1.1"/>
<rect x="388.75" y="402.5" width="6.5" height="12.5" fill="#2f4b80"/>
<rect x="389.1" y="402.85" width="5.8" height="11.8" fill="none" stroke="#1e3a6e" stroke-width="0.7"/>
<line x1="392" y1="402.5" x2="392" y2="398.75" stroke="#1e1e1e" stroke-width="1"/>
<line x1="390.5" y1="399.3" x2="393.5" y2="399.3" stroke="#1e1e1e" stroke-width="1.1"/>
<rect x="398.75" y="396.25" width="6.5" height="18.75" fill="#2f4b80"/>
<rect x="399.1" y="396.6" width="5.8" height="18.05" fill="none" stroke="#1e3a6e" stroke-width="0.7"/>
<line x1="402" y1="396.25" x2="402" y2="391.25" stroke="#1e1e1e" stroke-width="1"/>
<line x1="400.5" y1="391.8" x2="403.5" y2="391.8" stroke="#1e1e1e" stroke-width="1.1"/>
<rect x="408.75" y="399.5" width="6.5" height="15.5" fill="#2f4b80"/>
<rect x="409.1" y="399.85" width="5.8" height="14.8" fill="none" stroke="#1e3a6e" stroke-width="0.7"/>
<line x1="412" y1="399.5" x2="412" y2="390" stroke="#1e1e1e" stroke-width="1"/>
<line x1="410.5" y1="390.55" x2="413.5" y2="390.55" stroke="#1e1e1e" stroke-width="1.1"/>
<rect x="418.75" y="392" width="6.5" height="23" fill="#6aa846"/>
<rect x="419.1" y="392.35" width="5.8" height="22.3" fill="none" stroke="#559a30" stroke-width="0.7"/>
<line x1="422" y1="392" x2="422" y2="384.5" stroke="#1e1e1e" stroke-width="1"/>
<line x1="420.5" y1="385.05" x2="423.5" y2="385.05" stroke="#1e1e1e" stroke-width="1.1"/>
<rect x="428.75" y="388.75" width="6.5" height="26.25" fill="#6aa846"/>
<rect x="429.1" y="389.1" width="5.8" height="25.55" fill="none" stroke="#559a30" stroke-width="0.7"/>
<line x1="432" y1="388.75" x2="432" y2="379.25" stroke="#1e1e1e" stroke-width="1"/>
<line x1="430.5" y1="379.8" x2="433.5" y2="379.8" stroke="#1e1e1e" stroke-width="1.1"/>
<rect x="438.75" y="402" width="6.5" height="13" fill="#6aa846"/>
<rect x="439.1" y="402.35" width="5.8" height="12.3" fill="none" stroke="#559a30" stroke-width="0.7"/>
<line x1="442" y1="402" x2="442" y2="395" stroke="#1e1e1e" stroke-width="1"/>
<line x1="440.5" y1="395.55" x2="443.5" y2="395.55" stroke="#1e1e1e" stroke-width="1.1"/>
<text transform="translate(271.8 409.3) rotate(-90)" font-size="9.4" fill="#111" stroke="#111" stroke-width="0.32" font-weight="normal" textLength="83.6" lengthAdjust="spacingAndGlyphs">Fold change in mRNA levels</text>
<text transform="translate(282.9 396.7) rotate(-90)" font-size="9.4" fill="#111" stroke="#111" stroke-width="0.32" font-weight="normal" textLength="58.3" lengthAdjust="spacingAndGlyphs">normalized to Actin</text>
<text transform="translate(308.4 442.9) rotate(-90)" font-size="8.7" fill="#111" stroke="#111" stroke-width="0.3" font-weight="normal" textLength="23.4" lengthAdjust="spacingAndGlyphs">DMSO</text>
<polygon points="314.6,430.8 339.8,425.2 339.8,430.8" fill="#111"/>
<polygon points="344.5,430.8 369.6,425.2 369.6,430.8" fill="#111"/>
<text x="311.6" y="442" font-size="8.43" fill="#111" stroke="#111" stroke-width="0.2" font-weight="normal" textLength="30" lengthAdjust="spacingAndGlyphs">PS3061</text>
<text x="348.8" y="442" font-size="8.43" fill="#111" stroke="#111" stroke-width="0.2" font-weight="normal" textLength="15.2" lengthAdjust="spacingAndGlyphs">CT8</text>
<line x1="306.4" y1="446.9" x2="373" y2="446.9" stroke="#404040" stroke-width="1.15"/>
<text x="327.7" y="457" font-size="8.43" fill="#111" stroke="#111" stroke-width="0.2" font-weight="normal" textLength="24.3" lengthAdjust="spacingAndGlyphs">BCMA</text>
<text transform="translate(385.3 442.9) rotate(-90)" font-size="8.7" fill="#111" stroke="#111" stroke-width="0.3" font-weight="normal" textLength="23.4" lengthAdjust="spacingAndGlyphs">DMSO</text>
<polygon points="389.2,430.2 416.2,424.4 416.2,430.2" fill="#111"/>
<polygon points="420.6,430.2 447.5,424.4 447.5,430.2" fill="#111"/>
<text x="386.8" y="442" font-size="8.43" fill="#111" stroke="#111" stroke-width="0.2" font-weight="normal" textLength="29.9" lengthAdjust="spacingAndGlyphs">PS3061</text>
<text x="425.9" y="442" font-size="8.43" fill="#111" stroke="#111" stroke-width="0.2" font-weight="normal" textLength="14.8" lengthAdjust="spacingAndGlyphs">CT8</text>
<line x1="382.5" y1="446.9" x2="448.5" y2="446.9" stroke="#404040" stroke-width="1.15"/>
<text x="404.6" y="457" font-size="8.43" fill="#111" stroke="#111" stroke-width="0.2" font-weight="normal" textLength="21.6" lengthAdjust="spacingAndGlyphs">CD38</text>
<text x="7" y="478.6" font-size="12.3" fill="#000" stroke="#000" stroke-width="0.3" font-weight="bold">G</text>
<line x1="59.6" y1="481" x2="59.6" y2="533.6" stroke="#1a1a1a" stroke-width="1"/>
<line x1="57.8" y1="533.2" x2="61.4" y2="533.2" stroke="#1a1a1a" stroke-width="1"/>
<line x1="56.5" y1="483.6" x2="59.6" y2="483.6" stroke="#1a1a1a" stroke-width="1"/>
<text x="52.6" y="485.59" font-size="8.4" fill="#111" stroke="#111" stroke-width="0.3" text-anchor="end">30</text>
<line x1="56.5" y1="494.9" x2="59.6" y2="494.9" stroke="#1a1a1a" stroke-width="1"/>
<text x="52.6" y="496.89" font-size="8.4" fill="#111" stroke="#111" stroke-width="0.3" text-anchor="end">25</text>
<line x1="56.5" y1="506.3" x2="59.6" y2="506.3" stroke="#1a1a1a" stroke-width="1"/>
<text x="52.6" y="508.29" font-size="8.4" fill="#111" stroke="#111" stroke-width="0.3" text-anchor="end">20</text>
<line x1="56.5" y1="517.6" x2="59.6" y2="517.6" stroke="#1a1a1a" stroke-width="1"/>
<text x="52.6" y="519.59" font-size="8.4" fill="#111" stroke="#111" stroke-width="0.3" text-anchor="end">15</text>
<line x1="56.5" y1="528.9" x2="59.6" y2="528.9" stroke="#1a1a1a" stroke-width="1"/>
<text x="52.6" y="530.89" font-size="8.4" fill="#111" stroke="#111" stroke-width="0.3" text-anchor="end">10</text>
<line x1="60" y1="543" x2="60" y2="593" stroke="#1a1a1a" stroke-width="1"/>
<line x1="58.2" y1="543.5" x2="61.8" y2="543.5" stroke="#1a1a1a" stroke-width="1"/>
<line x1="56.8" y1="553.1" x2="60" y2="553.1" stroke="#1a1a1a" stroke-width="1"/>
<text x="53.3" y="555.09" font-size="8.4" fill="#111" stroke="#111" stroke-width="0.3" text-anchor="end">4</text>
<line x1="56.8" y1="573" x2="60" y2="573" stroke="#1a1a1a" stroke-width="1"/>
<text x="53.3" y="574.99" font-size="8.4" fill="#111" stroke="#111" stroke-width="0.3" text-anchor="end">2</text>
<line x1="56.8" y1="593" x2="60" y2="593" stroke="#1a1a1a" stroke-width="1"/>
<text x="53.3" y="594.99" font-size="8.4" fill="#111" stroke="#111" stroke-width="0.3" text-anchor="end">0</text>
<text x="91.3" y="485.6" font-size="8.14" fill="#111" stroke="#111" stroke-width="0.2" font-weight="normal" textLength="22.5" lengthAdjust="spacingAndGlyphs">BCMA</text>
<line x1="67" y1="490" x2="137" y2="490" stroke="#404040" stroke-width="1.3"/>
<text x="173.8" y="485.6" font-size="8.72" fill="#111" stroke="#111" stroke-width="0.2" font-weight="normal" textLength="20" lengthAdjust="spacingAndGlyphs">CD38</text>
<line x1="146.3" y1="490" x2="220.8" y2="490" stroke="#404040" stroke-width="1.3"/>
<line x1="57" y1="593" x2="223.8" y2="593" stroke="#1a1a1a" stroke-width="1"/>
<rect x="65.5" y="583.3" width="8.3" height="9.7" fill="#a8022c"/>
<rect x="65.85" y="583.65" width="7.6" height="9" fill="none" stroke="#8c0022" stroke-width="0.7"/>
<line x1="69.65" y1="583.3" x2="69.65" y2="582" stroke="#1e1e1e" stroke-width="1"/>
<line x1="67.65" y1="582.55" x2="71.65" y2="582.55" stroke="#1e1e1e" stroke-width="1.1"/>
<rect x="78.3" y="543.5" width="8" height="49.5" fill="#2f4b80"/>
<rect x="78.65" y="543.85" width="7.3" height="48.8" fill="none" stroke="#1e3a6e" stroke-width="0.7"/>
<rect x="90.5" y="570.8" width="8.3" height="22.2" fill="#6aa846"/>
<rect x="90.85" y="571.15" width="7.6" height="21.5" fill="none" stroke="#559a30" stroke-width="0.7"/>
<line x1="94.65" y1="570.8" x2="94.65" y2="565" stroke="#1e1e1e" stroke-width="1"/>
<line x1="92.65" y1="565.55" x2="96.65" y2="565.55" stroke="#1e1e1e" stroke-width="1.1"/>
<rect x="102.5" y="543.5" width="8.3" height="49.5" fill="#6aa846"/>
<rect x="102.85" y="543.85" width="7.6" height="48.8" fill="none" stroke="#559a30" stroke-width="0.7"/>
<rect x="115" y="563.8" width="8" height="29.2" fill="#4d2a6c"/>
<rect x="115.35" y="564.15" width="7.3" height="28.5" fill="none" stroke="#3c1a5c" stroke-width="0.7"/>
<line x1="119" y1="563.8" x2="119" y2="558.8" stroke="#1e1e1e" stroke-width="1"/>
<line x1="117" y1="559.35" x2="121" y2="559.35" stroke="#1e1e1e" stroke-width="1.1"/>
<rect x="127" y="543.5" width="8.5" height="49.5" fill="#4d2a6c"/>
<rect x="127.35" y="543.85" width="7.8" height="48.8" fill="none" stroke="#3c1a5c" stroke-width="0.7"/>
<rect x="78.3" y="530" width="8" height="3.6" fill="#2f4b80"/>
<rect x="78.65" y="530.35" width="7.3" height="2.9" fill="none" stroke="#1e3a6e" stroke-width="0.7"/>
<line x1="82.3" y1="530" x2="82.3" y2="526.3" stroke="#1e1e1e" stroke-width="1"/>
<line x1="80.3" y1="526.85" x2="84.3" y2="526.85" stroke="#1e1e1e" stroke-width="1.1"/>
<rect x="102.5" y="506.3" width="8.3" height="27.3" fill="#6aa846"/>
<rect x="102.85" y="506.65" width="7.6" height="26.6" fill="none" stroke="#559a30" stroke-width="0.7"/>
<line x1="106.65" y1="506.3" x2="106.65" y2="493.8" stroke="#1e1e1e" stroke-width="1"/>
<line x1="104.65" y1="494.35" x2="108.65" y2="494.35" stroke="#1e1e1e" stroke-width="1.1"/>
<rect x="127" y="509.5" width="8.5" height="24.1" fill="#4d2a6c"/>
<rect x="127.35" y="509.85" width="7.8" height="23.4" fill="none" stroke="#3c1a5c" stroke-width="0.7"/>
<line x1="131.25" y1="509.5" x2="131.25" y2="495.5" stroke="#1e1e1e" stroke-width="1"/>
<line x1="129.25" y1="496.05" x2="133.25" y2="496.05" stroke="#1e1e1e" stroke-width="1.1"/>
<rect x="147.5" y="583" width="8.3" height="10" fill="#a8022c"/>
<rect x="147.85" y="583.35" width="7.6" height="9.3" fill="none" stroke="#8c0022" stroke-width="0.7"/>
<line x1="151.65" y1="583" x2="151.65" y2="582.2" stroke="#1e1e1e" stroke-width="1"/>
<line x1="150.15" y1="582.75" x2="153.15" y2="582.75" stroke="#1e1e1e" stroke-width="1.1"/>
<rect x="160" y="585" width="8" height="8" fill="#2f4b80"/>
<rect x="160.35" y="585.35" width="7.3" height="7.3" fill="none" stroke="#1e3a6e" stroke-width="0.7"/>
<line x1="164" y1="585" x2="164" y2="584.2" stroke="#1e1e1e" stroke-width="1"/>
<line x1="162.5" y1="584.75" x2="165.5" y2="584.75" stroke="#1e1e1e" stroke-width="1.1"/>
<rect x="172" y="587.5" width="8.5" height="5.5" fill="#6aa846"/>
<rect x="172.35" y="587.85" width="7.8" height="4.8" fill="none" stroke="#559a30" stroke-width="0.7"/>
<line x1="176.25" y1="587.5" x2="176.25" y2="586.7" stroke="#1e1e1e" stroke-width="1"/>
<line x1="174.75" y1="587.25" x2="177.75" y2="587.25" stroke="#1e1e1e" stroke-width="1.1"/>
<rect x="184.5" y="587.5" width="8.5" height="5.5" fill="#6aa846"/>
<rect x="184.85" y="587.85" width="7.8" height="4.8" fill="none" stroke="#559a30" stroke-width="0.7"/>
<line x1="188.75" y1="587.5" x2="188.75" y2="586.7" stroke="#1e1e1e" stroke-width="1"/>
<line x1="187.25" y1="587.25" x2="190.25" y2="587.25" stroke="#1e1e1e" stroke-width="1.1"/>
<rect x="196.8" y="588.5" width="8.2" height="4.5" fill="#4d2a6c"/>
<rect x="197.15" y="588.85" width="7.5" height="3.8" fill="none" stroke="#3c1a5c" stroke-width="0.7"/>
<line x1="200.9" y1="588.5" x2="200.9" y2="587.7" stroke="#1e1e1e" stroke-width="1"/>
<line x1="199.4" y1="588.25" x2="202.4" y2="588.25" stroke="#1e1e1e" stroke-width="1.1"/>
<rect x="208.8" y="588.5" width="8.7" height="4.5" fill="#4d2a6c"/>
<rect x="209.15" y="588.85" width="8" height="3.8" fill="none" stroke="#3c1a5c" stroke-width="0.7"/>
<line x1="213.15" y1="588.5" x2="213.15" y2="587.7" stroke="#1e1e1e" stroke-width="1"/>
<line x1="211.65" y1="588.25" x2="214.65" y2="588.25" stroke="#1e1e1e" stroke-width="1.1"/>
<text transform="translate(27 559.4) rotate(-90)" font-size="9.2" fill="#111" stroke="#111" stroke-width="0.32" font-weight="normal" textLength="44.2" lengthAdjust="spacingAndGlyphs">Fold change in</text>
<text transform="translate(38.3 570.6) rotate(-90)" font-size="9.2" fill="#111" stroke="#111" stroke-width="0.32" font-weight="normal" textLength="68" lengthAdjust="spacingAndGlyphs">cell surface expression</text>
<text x="7.6" y="603.6" font-size="8.72" fill="#111" stroke="#111" stroke-width="0.2" font-weight="normal" textLength="45.7" lengthAdjust="spacingAndGlyphs">RO4929097</text>
<text x="10" y="618.8" font-size="8.43" fill="#111" stroke="#111" stroke-width="0.2" font-weight="normal" textLength="43.3" lengthAdjust="spacingAndGlyphs">nM PS3061</text>
<line x1="67.6" y1="600.9" x2="71.6" y2="600.9" stroke="#222" stroke-width="1"/>
<line x1="80" y1="600.9" x2="84.6" y2="600.9" stroke="#222" stroke-width="1"/>
<line x1="82.3" y1="598.5" x2="82.3" y2="603.2" stroke="#222" stroke-width="1"/>
<line x1="92.6" y1="600.9" x2="96.6" y2="600.9" stroke="#222" stroke-width="1"/>
<line x1="104.3" y1="600.9" x2="108.9" y2="600.9" stroke="#222" stroke-width="1"/>
<line x1="106.6" y1="598.5" x2="106.6" y2="603.2" stroke="#222" stroke-width="1"/>
<line x1="117" y1="600.9" x2="121" y2="600.9" stroke="#222" stroke-width="1"/>
<line x1="129.3" y1="600.9" x2="133.9" y2="600.9" stroke="#222" stroke-width="1"/>
<line x1="131.6" y1="598.5" x2="131.6" y2="603.2" stroke="#222" stroke-width="1"/>
<line x1="149.9" y1="600.9" x2="153.9" y2="600.9" stroke="#222" stroke-width="1"/>
<line x1="161.7" y1="600.9" x2="166.3" y2="600.9" stroke="#222" stroke-width="1"/>
<line x1="164" y1="598.5" x2="164" y2="603.2" stroke="#222" stroke-width="1"/>
<line x1="174.2" y1="600.9" x2="178.2" y2="600.9" stroke="#222" stroke-width="1"/>
<line x1="186.3" y1="600.9" x2="190.9" y2="600.9" stroke="#222" stroke-width="1"/>
<line x1="188.6" y1="598.5" x2="188.6" y2="603.2" stroke="#222" stroke-width="1"/>
<line x1="198.7" y1="600.9" x2="202.7" y2="600.9" stroke="#222" stroke-width="1"/>
<line x1="210.6" y1="600.9" x2="215.2" y2="600.9" stroke="#222" stroke-width="1"/>
<line x1="212.9" y1="598.5" x2="212.9" y2="603.2" stroke="#222" stroke-width="1"/>
<line x1="65.5" y1="608.5" x2="86.3" y2="608.5" stroke="#404040" stroke-width="1"/>
<line x1="90" y1="608.5" x2="110.8" y2="608.5" stroke="#404040" stroke-width="1"/>
<line x1="115" y1="608.5" x2="135" y2="608.5" stroke="#404040" stroke-width="1"/>
<line x1="147" y1="608.5" x2="167.5" y2="608.5" stroke="#404040" stroke-width="1"/>
<line x1="172" y1="608.5" x2="192.5" y2="608.5" stroke="#404040" stroke-width="1"/>
<line x1="196.3" y1="608.5" x2="217.5" y2="608.5" stroke="#404040" stroke-width="1"/>
<line x1="73.6" y1="616.3" x2="78" y2="616.3" stroke="#222" stroke-width="0.9"/>
<line x1="154.8" y1="616.3" x2="159.2" y2="616.3" stroke="#222" stroke-width="0.9"/>
<text x="95" y="618.8" font-size="8.43" fill="#111" stroke="#111" stroke-width="0.2" font-weight="normal" textLength="13" lengthAdjust="spacingAndGlyphs">100</text>
<text x="118" y="618.8" font-size="8.43" fill="#111" stroke="#111" stroke-width="0.2" font-weight="normal" textLength="14" lengthAdjust="spacingAndGlyphs">200</text>
<text x="175.5" y="618.8" font-size="8.43" fill="#111" stroke="#111" stroke-width="0.2" font-weight="normal" textLength="14" lengthAdjust="spacingAndGlyphs">100</text>
<text x="200" y="618.8" font-size="8.43" fill="#111" stroke="#111" stroke-width="0.2" font-weight="normal" textLength="13" lengthAdjust="spacingAndGlyphs">200</text>
<text x="255.5" y="478.7" font-size="12.3" fill="#000" stroke="#000" stroke-width="0.3" font-weight="bold">H</text>
<path d="M265.5 541.9 L275.8 541.3 L282.8 539 L286.2 536 L288.8 529.5 L290.5 523.5 L292.3 521.6 L293.3 516.8 L293.9 516.8 L294.5 524 L296.3 534.4 L298.3 541.3 L299.5 541.9 Z" fill="#a796bd" stroke="none"/>
<path d="M265.5 541.9 L275.8 541.3 L282.8 539 L286.2 536 L288.8 529.5 L290.5 523.5 L292.3 521.6 L293.3 516.8 L293.9 516.8 L294.5 524 L296.3 534.4 L298.3 541.3 L299.5 541.9" fill="none" stroke="#56307e" stroke-width="1" stroke-linejoin="round"/>
<line x1="298.5" y1="541.9" x2="350.5" y2="541.9" stroke="#56307e" stroke-width="1"/>
<path d="M265.5 558.8 L293.1 558.5 L299.2 556.9 L302.7 551.7 L305.6 541.3 L307.3 533.5 L308.7 531 L310.4 536.1 L312.5 546.5 L314.8 556 L317 558.8 Z" fill="#b3d69c" stroke="none"/>
<path d="M265.5 558.8 L293.1 558.5 L299.2 556.9 L302.7 551.7 L305.6 541.3 L307.3 533.5 L308.7 531 L310.4 536.1 L312.5 546.5 L314.8 556 L317 558.8" fill="none" stroke="#6aae46" stroke-width="1" stroke-linejoin="round"/>
<line x1="316" y1="558.8" x2="350.5" y2="558.8" stroke="#6aae46" stroke-width="1"/>
<path d="M265.5 575.8 L288 574.9 L298.3 573.6 L305.3 571.9 L310.4 568.5 L313.9 563.3 L316 559 L317.4 557.3 L319.1 560.2 L320.8 564 L323.4 571 L325.7 575.8 Z" fill="#d8889c" stroke="none"/>
<path d="M265.5 575.8 L288 574.9 L298.3 573.6 L305.3 571.9 L310.4 568.5 L313.9 563.3 L316 559 L317.4 557.3 L319.1 560.2 L320.8 564 L323.4 571 L325.7 575.8" fill="none" stroke="#bd1a46" stroke-width="1" stroke-linejoin="round"/>
<line x1="325" y1="575.8" x2="350.5" y2="575.8" stroke="#bd1a46" stroke-width="1"/>
<path d="M312.2 592 L319.1 587.4 L323.4 581.3 L326 573.5 L327.7 571.4 L329.8 574.2 L332.1 582.2 L334.7 590.3 L335.7 592 Z" fill="#95a5c6" stroke="none"/>
<path d="M312.2 592 L319.1 587.4 L323.4 581.3 L326 573.5 L327.7 571.4 L329.8 574.2 L332.1 582.2 L334.7 590.3 L335.7 592" fill="none" stroke="#36558c" stroke-width="1" stroke-linejoin="round"/>
<rect x="265.5" y="508.5" width="85" height="83.8" fill="none" stroke="#111" stroke-width="1"/>
<text x="303.2" y="519.7" font-size="7.41" fill="#56307e" stroke="#56307e" stroke-width="0.05" font-weight="normal" textLength="37.5" lengthAdjust="spacingAndGlyphs">Isotype-IgG</text>
<text x="320.8" y="551.3" font-size="7.99" fill="#6aae46" stroke="#6aae46" stroke-width="0.05" font-weight="normal" textLength="22.5" lengthAdjust="spacingAndGlyphs">DMSO</text>
<text x="270.3" y="571.3" font-size="7.56" fill="#bd1a46" stroke="#bd1a46" stroke-width="0.05" font-weight="normal" textLength="27.2" lengthAdjust="spacingAndGlyphs">PS3061</text>
<text x="270.3" y="588.6" font-size="7.41" fill="#36558c" stroke="#36558c" stroke-width="0.05" font-weight="normal" textLength="42.7" lengthAdjust="spacingAndGlyphs">RO4929097</text>
<line x1="265.5" y1="592.3" x2="265.5" y2="594.8" stroke="#222" stroke-width="0.75"/>
<line x1="270.62" y1="592.3" x2="270.62" y2="594" stroke="#222" stroke-width="0.75"/>
<line x1="273.61" y1="592.3" x2="273.61" y2="594" stroke="#222" stroke-width="0.75"/>
<line x1="275.74" y1="592.3" x2="275.74" y2="594" stroke="#222" stroke-width="0.75"/>
<line x1="277.38" y1="592.3" x2="277.38" y2="594" stroke="#222" stroke-width="0.75"/>
<line x1="278.73" y1="592.3" x2="278.73" y2="594" stroke="#222" stroke-width="0.75"/>
<line x1="279.87" y1="592.3" x2="279.87" y2="594" stroke="#222" stroke-width="0.75"/>
<line x1="280.85" y1="592.3" x2="280.85" y2="594" stroke="#222" stroke-width="0.75"/>
<line x1="281.72" y1="592.3" x2="281.72" y2="594" stroke="#222" stroke-width="0.75"/>
<line x1="282.5" y1="592.3" x2="282.5" y2="594.8" stroke="#222" stroke-width="0.75"/>
<line x1="287.62" y1="592.3" x2="287.62" y2="594" stroke="#222" stroke-width="0.75"/>
<line x1="290.61" y1="592.3" x2="290.61" y2="594" stroke="#222" stroke-width="0.75"/>
<line x1="292.74" y1="592.3" x2="292.74" y2="594" stroke="#222" stroke-width="0.75"/>
<line x1="294.38" y1="592.3" x2="294.38" y2="594" stroke="#222" stroke-width="0.75"/>
<line x1="295.73" y1="592.3" x2="295.73" y2="594" stroke="#222" stroke-width="0.75"/>
<line x1="296.87" y1="592.3" x2="296.87" y2="594" stroke="#222" stroke-width="0.75"/>
<line x1="297.85" y1="592.3" x2="297.85" y2="594" stroke="#222" stroke-width="0.75"/>
<line x1="298.72" y1="592.3" x2="298.72" y2="594" stroke="#222" stroke-width="0.75"/>
<line x1="299.5" y1="592.3" x2="299.5" y2="594.8" stroke="#222" stroke-width="0.75"/>
<line x1="304.62" y1="592.3" x2="304.62" y2="594" stroke="#222" stroke-width="0.75"/>
<line x1="307.61" y1="592.3" x2="307.61" y2="594" stroke="#222" stroke-width="0.75"/>
<line x1="309.74" y1="592.3" x2="309.74" y2="594" stroke="#222" stroke-width="0.75"/>
<line x1="311.38" y1="592.3" x2="311.38" y2="594" stroke="#222" stroke-width="0.75"/>
<line x1="312.73" y1="592.3" x2="312.73" y2="594" stroke="#222" stroke-width="0.75"/>
<line x1="313.87" y1="592.3" x2="313.87" y2="594" stroke="#222" stroke-width="0.75"/>
<line x1="314.85" y1="592.3" x2="314.85" y2="594" stroke="#222" stroke-width="0.75"/>
<line x1="315.72" y1="592.3" x2="315.72" y2="594" stroke="#222" stroke-width="0.75"/>
<line x1="316.5" y1="592.3" x2="316.5" y2="594.8" stroke="#222" stroke-width="0.75"/>
<line x1="321.62" y1="592.3" x2="321.62" y2="594" stroke="#222" stroke-width="0.75"/>
<line x1="324.61" y1="592.3" x2="324.61" y2="594" stroke="#222" stroke-width="0.75"/>
<line x1="326.74" y1="592.3" x2="326.74" y2="594" stroke="#222" stroke-width="0.75"/>
<line x1="328.38" y1="592.3" x2="328.38" y2="594" stroke="#222" stroke-width="0.75"/>
<line x1="329.73" y1="592.3" x2="329.73" y2="594" stroke="#222" stroke-width="0.75"/>
<line x1="330.87" y1="592.3" x2="330.87" y2="594" stroke="#222" stroke-width="0.75"/>
<line x1="331.85" y1="592.3" x2="331.85" y2="594" stroke="#222" stroke-width="0.75"/>
<line x1="332.72" y1="592.3" x2="332.72" y2="594" stroke="#222" stroke-width="0.75"/>
<line x1="333.5" y1="592.3" x2="333.5" y2="594.8" stroke="#222" stroke-width="0.75"/>
<line x1="338.62" y1="592.3" x2="338.62" y2="594" stroke="#222" stroke-width="0.75"/>
<line x1="341.61" y1="592.3" x2="341.61" y2="594" stroke="#222" stroke-width="0.75"/>
<line x1="343.74" y1="592.3" x2="343.74" y2="594" stroke="#222" stroke-width="0.75"/>
<line x1="345.38" y1="592.3" x2="345.38" y2="594" stroke="#222" stroke-width="0.75"/>
<line x1="346.73" y1="592.3" x2="346.73" y2="594" stroke="#222" stroke-width="0.75"/>
<line x1="347.87" y1="592.3" x2="347.87" y2="594" stroke="#222" stroke-width="0.75"/>
<line x1="348.85" y1="592.3" x2="348.85" y2="594" stroke="#222" stroke-width="0.75"/>
<line x1="349.72" y1="592.3" x2="349.72" y2="594" stroke="#222" stroke-width="0.75"/>
<text x="260" y="608.2" font-size="7.99" fill="#111" stroke="#111" stroke-width="0.1" font-weight="normal" textLength="9" lengthAdjust="spacingAndGlyphs">10</text>
<text x="269.3" y="605" font-size="5.4" fill="#111" stroke="#111" stroke-width="0.05" font-weight="normal">0</text>
<text x="275.75" y="608.2" font-size="7.99" fill="#111" stroke="#111" stroke-width="0.1" font-weight="normal" textLength="9" lengthAdjust="spacingAndGlyphs">10</text>
<text x="285.05" y="605" font-size="5.4" fill="#111" stroke="#111" stroke-width="0.05" font-weight="normal">1</text>
<text x="291.5" y="608.2" font-size="7.99" fill="#111" stroke="#111" stroke-width="0.1" font-weight="normal" textLength="9" lengthAdjust="spacingAndGlyphs">10</text>
<text x="300.8" y="605" font-size="5.4" fill="#111" stroke="#111" stroke-width="0.05" font-weight="normal">2</text>
<text x="307.25" y="608.2" font-size="7.99" fill="#111" stroke="#111" stroke-width="0.1" font-weight="normal" textLength="9" lengthAdjust="spacingAndGlyphs">10</text>
<text x="316.55" y="605" font-size="5.4" fill="#111" stroke="#111" stroke-width="0.05" font-weight="normal">3</text>
<text x="323" y="608.2" font-size="7.99" fill="#111" stroke="#111" stroke-width="0.1" font-weight="normal" textLength="9" lengthAdjust="spacingAndGlyphs">10</text>
<text x="332.3" y="605" font-size="5.4" fill="#111" stroke="#111" stroke-width="0.05" font-weight="normal">4</text>
<text x="338.75" y="608.2" font-size="7.99" fill="#111" stroke="#111" stroke-width="0.1" font-weight="normal" textLength="9" lengthAdjust="spacingAndGlyphs">10</text>
<text x="348.05" y="605" font-size="5.4" fill="#111" stroke="#111" stroke-width="0.05" font-weight="normal">5</text>
<text x="286.8" y="622" font-size="10.76" fill="#111" stroke="#111" stroke-width="0.35" font-weight="normal" textLength="43.2" lengthAdjust="spacingAndGlyphs">PE Cy7-BCMA</text>
<text x="361.2" y="478.6" font-size="12.3" fill="#000" stroke="#000" stroke-width="0.3" font-weight="bold">I</text>
<line x1="395.2" y1="505.1" x2="395.2" y2="593" stroke="#1a1a1a" stroke-width="1"/>
<line x1="395.2" y1="593" x2="499.3" y2="593" stroke="#1a1a1a" stroke-width="1"/>
<line x1="392.3" y1="593" x2="395.2" y2="593" stroke="#1a1a1a" stroke-width="1"/>
<text x="388" y="594.85" font-size="8" fill="#111" stroke="#111" stroke-width="0.3" text-anchor="end">0</text>
<line x1="392.3" y1="571.77" x2="395.2" y2="571.77" stroke="#1a1a1a" stroke-width="1"/>
<text x="388" y="573.62" font-size="8" fill="#111" stroke="#111" stroke-width="0.3" text-anchor="end">10</text>
<line x1="392.3" y1="550.54" x2="395.2" y2="550.54" stroke="#1a1a1a" stroke-width="1"/>
<text x="388" y="552.39" font-size="8" fill="#111" stroke="#111" stroke-width="0.3" text-anchor="end">20</text>
<line x1="392.3" y1="529.31" x2="395.2" y2="529.31" stroke="#1a1a1a" stroke-width="1"/>
<text x="388" y="531.16" font-size="8" fill="#111" stroke="#111" stroke-width="0.3" text-anchor="end">30</text>
<line x1="392.3" y1="508.08" x2="395.2" y2="508.08" stroke="#1a1a1a" stroke-width="1"/>
<text x="388" y="509.93" font-size="8" fill="#111" stroke="#111" stroke-width="0.3" text-anchor="end">40</text>
<rect x="405.2" y="527" width="20.4" height="66" fill="#6aa846"/>
<rect x="405.55" y="527.35" width="19.7" height="65.3" fill="none" stroke="#559a30" stroke-width="0.7"/>
<line x1="415.4" y1="527" x2="415.4" y2="520.7" stroke="#1e1e1e" stroke-width="1"/>
<line x1="410.55" y1="521.25" x2="420.25" y2="521.25" stroke="#1e1e1e" stroke-width="1.1"/>
<rect x="435.6" y="538.4" width="20.4" height="54.6" fill="#a8022c"/>
<rect x="435.95" y="538.75" width="19.7" height="53.9" fill="none" stroke="#8c0022" stroke-width="0.7"/>
<line x1="445.8" y1="538.4" x2="445.8" y2="527.2" stroke="#1e1e1e" stroke-width="1"/>
<line x1="440.7" y1="527.75" x2="450.9" y2="527.75" stroke="#1e1e1e" stroke-width="1.1"/>
<rect x="465.5" y="589.2" width="20.7" height="3.8" fill="#2f4b80"/>
<rect x="465.85" y="589.55" width="20" height="3.1" fill="none" stroke="#1e3a6e" stroke-width="0.7"/>
<line x1="475.85" y1="589.2" x2="475.85" y2="588.3" stroke="#1e1e1e" stroke-width="1"/>
<line x1="471.85" y1="588.85" x2="479.85" y2="588.85" stroke="#1e1e1e" stroke-width="1.1"/>
<polyline points="414.5,514.3 414.5,506.2 447.9,506.2 447.9,514.3" fill="none" stroke="#111" stroke-width="1.1"/>
<polyline points="420.7,501.5 420.7,491.0 478.3,491.0 478.3,501.5" fill="none" stroke="#111" stroke-width="1.1"/>
<text x="425" y="503.6" font-size="6.5" fill="#111" stroke="#111" stroke-width="0.2" font-weight="normal" textLength="11.3" lengthAdjust="spacingAndGlyphs">n.s.</text>
<text x="446.8" y="490" font-size="6.8" fill="#111" stroke="#111" stroke-width="0.35" font-weight="normal" textLength="5.8" lengthAdjust="spacingAndGlyphs">**</text>
<text x="402.5" y="604.3" font-size="10.17" fill="#111" stroke="#111" stroke-width="0.2" font-weight="normal" textLength="25.2" lengthAdjust="spacingAndGlyphs">DMSO</text>
<text x="430.8" y="604.3" font-size="10.17" fill="#111" stroke="#111" stroke-width="0.2" font-weight="normal" textLength="29.2" lengthAdjust="spacingAndGlyphs">PS3061</text>
<text x="464.6" y="604.3" font-size="10.17" fill="#111" stroke="#111" stroke-width="0.2" font-weight="normal" textLength="46.8" lengthAdjust="spacingAndGlyphs">RO4929097</text>
<text transform="translate(373.6 572.2) rotate(-90)" font-size="9.6" fill="#111" stroke="#111" stroke-width="0.7" font-weight="normal" textLength="46.6" lengthAdjust="spacingAndGlyphs">sBCMA (ng/ml)</text>
<rect x="0.5" y="0.5" width="519" height="630" fill="none" stroke="#000" stroke-width="1.2"/>
</svg>
</body></html>
